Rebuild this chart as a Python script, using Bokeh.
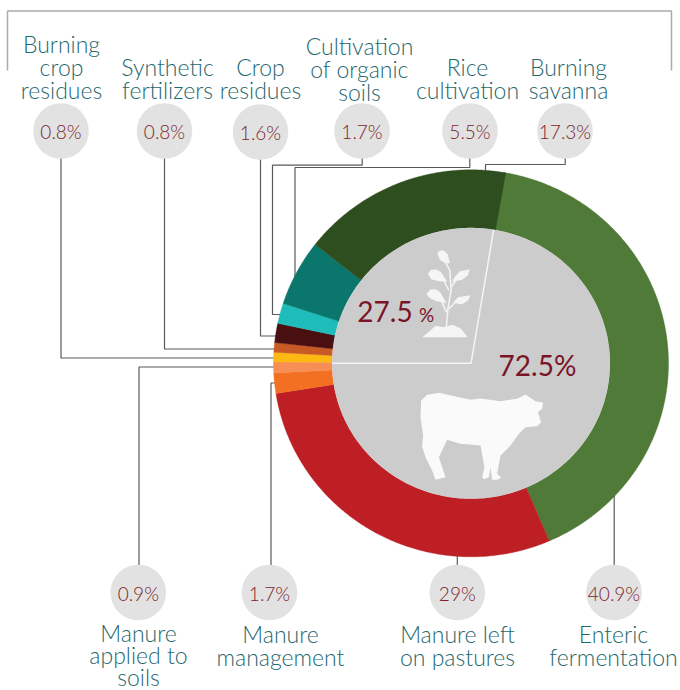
import numpy as np
from bokeh.plotting import figure
from bokeh.embed import file_html
from bokeh.resources import INLINE
from bokeh.core.properties import value

# ---- data, clockwise from the top of the ring
categories = ["Enteric\nfermentation", "Manure left\non pastures", "Manure\nmanagement",
              "Manure\napplied to\nsoils", "Burning\ncrop\nresidues", "Synthetic\nfertilizers",
              "Crop\nresidues", "Cultivation\nof organic\nsoils", "Rice\ncultivation",
              "Burning\nsavanna"]
shares = [40.9, 29.0, 1.7, 0.9, 0.8, 0.8, 1.6, 1.7, 5.5, 17.3]
share_labels = ["40.9%", "29%", "1.7%", "0.9%", "0.8%", "0.8%", "1.6%", "1.7%", "5.5%", "17.3%"]
colors = ["#4f7a37", "#be1f24", "#f36f21", "#f68e55", "#fdb813", "#c95a25",
          "#4a0f10", "#1fbcbc", "#0a766c", "#2f4e20"]
group_labels = ["72.5%", "27.5"]

# ---- layout, in reference pixels
CX, CY, RX, RY, IRX, IRY = 470.5, 362.8, 197.5, 193.5, 139, 135.5
START = 9.4
circle_x = [613.5, 456.8, 269, 137.8, 60.5, 164, 260, 361.5, 469.5, 564.5]
circle_y = [592.0, 592.0, 592.0, 592.0, 130.5, 130.5, 131.5, 130.5, 130.5, 130.5]
text_x = [613, 457, 280, 138, 61, 167, 260, 359, 467, 568]
text_y0 = [633.5, 633.5, 633, 632, 43, 66, 66, 45, 66, 66]
line_h = [23, 23, 23, 22, 23, 23, 23, 23, 23, 23]
FONT = "Lato Light, Lato"
TEAL = "#1f686d"
RED = "#7d1f2b"
LINE = "#58595b"

p = figure(width=680, height=690, x_range=(0, 680), y_range=(690, 0),
           x_axis_location=None, y_axis_location=None, toolbar_location=None,
           output_backend="svg", min_border=0, outline_line_color=None,
           background_fill_color="white", border_fill_color="white")
p.xgrid.visible = False
p.ygrid.visible = False

# bracket
p.line([7, 7, 671, 671], [70, 10.5, 10.5, 70], line_color="#ababab", line_width=1.5)

# leaders
leaders_x = [[60.5, 60.5, 280], [164, 164, 280], [260, 260, 280],
             [361.7, 361.7, 272, 272, 288], [469.3, 469.3, 294.5, 294.5],
             [564.7, 564.7, 485, 485], [280, 138.5, 138.5], [280, 270.5, 270.5],
             [456.8, 456.8], [613.7, 613.7]]
leaders_y = [[150, 357.5, 357.5], [150, 348.5, 348.5], [150, 335.5, 335.5],
             [150, 164.7, 164.7, 314, 314], [150, 167, 167, 290],
             [150, 164, 164, 178], [366.5, 366.5, 570], [382.5, 382.5, 570],
             [540, 570], [480, 570]]
p.multi_line(leaders_x, leaders_y, line_color=LINE, line_width=1.2)

# ring, sector by sector, from the shares
edges = START + 3.6 * np.concatenate([[0], np.cumsum(shares)])
xs, ys = [], []
for a0, a1 in zip(edges[:-1], edges[1:]):
    t = np.radians(np.linspace(a0, a1, max(int(a1 - a0) * 2, 4)))
    xs.append(np.concatenate([CX + RX * np.sin(t), CX + IRX * np.sin(t[::-1])]))
    ys.append(np.concatenate([CY - RY * np.cos(t), CY - IRY * np.cos(t[::-1])]))
p.patches(xs, ys, fill_color=colors, line_color=colors, line_width=0.4)

# centre disc and its dividing line
p.ellipse([CX], [CY], width=2 * IRX, height=2 * IRY, fill_color="#cccccc", line_color=None)
b = np.radians(START)
p.line([CX - IRX, CX, CX + IRX * np.sin(b)], [CY, CY, CY - IRY * np.cos(b)],
       line_color="#f4f4f4", line_width=1.5)

# circles and their labels
p.circle(circle_x, circle_y, radius=27.8, fill_color="#e2e2e2", line_color=None)
p.text(circle_x, [y + 0.5 for y in circle_y], text=share_labels, text_font=value(FONT),
       text_font_size="19px", text_color=RED, text_align="center", text_baseline="alphabetic")

# category labels, one row per line
for name, tx, ty, lh in zip(categories, text_x, text_y0, line_h):
    rows = name.split("\n")
    p.text([tx] * len(rows), [ty + i * lh for i in range(len(rows))], text=rows,
           text_font=value(FONT), text_font_size="23px", text_color=TEAL,
           text_align="center", text_baseline="alphabetic")

# group labels
p.text([537], [364.5], text=[group_labels[0]], text_font=value("Lato"), text_font_size="28px",
       text_color="#7a1528", text_align="center", text_baseline="alphabetic")
p.text([384.5], [311], text=[group_labels[1]], text_font=value("Lato"), text_font_size="28px",
       text_color="#7a1528", text_align="center", text_baseline="alphabetic")
p.text([426], [314], text=["%"], text_font=value("Lato"), text_font_size="19px",
       text_color="#7a1528", text_align="center", text_baseline="alphabetic")

# cow silhouette
cow = [(122,120),(140,103),(175,97),(215,106),(270,118),(300,114),(360,122),(410,115),(435,102),
       (465,122),(488,126),(485,145),(472,155),(482,185),(470,197),(435,200),(415,220),(390,255),
       (360,285),(350,340),(362,352),(350,358),(335,358),(330,320),(325,350),(310,356),(305,350),
       (312,320),(300,255),(240,250),(200,238),(175,290),(195,350),(165,358),(155,330),(135,290),
       (125,258),(128,225),(120,170)]
p.patch([380 + c[0] / 3 for c in cow], [360 + c[1] / 3 for c in cow], fill_color="#fafafa", line_color=None)

# plant silhouette
plant = [
    [(35,290),(60,270),(75,256),(100,260),(125,253),(150,263),(172,290)],
    [(80,38),(88,30),(100,30),(112,42),(118,68),(104,68),(88,58)],
    [(52,100),(62,88),(78,87),(92,95),(110,124),(85,122),(62,116)],
    [(134,108),(148,92),(178,86),(172,104),(155,118),(124,124)],
    [(48,160),(60,147),(76,146),(90,156),(108,188),(78,182),(56,172)],
    [(128,186),(142,170),(180,164),(172,180),(154,192)],
]
p.patches([[410 + q[0] / 3 for q in s] for s in plant], [[240 + q[1] / 3 for q in s] for s in plant],
          fill_color="#f5f5f5", line_color=None)
stems = [[(100,55),(118,90),(122,150),(113,200),(107,262)], [(100,120),(115,150)],
         [(135,122),(122,140)], [(90,175),(108,215)], [(135,185),(115,205)]]
p.multi_line([[410 + q[0] / 3 for q in s] for s in stems], [[240 + q[1] / 3 for q in s] for s in stems],
             line_color="#f5f5f5", line_width=1.5)

open("out.html", "w").write(file_html(p, INLINE))
